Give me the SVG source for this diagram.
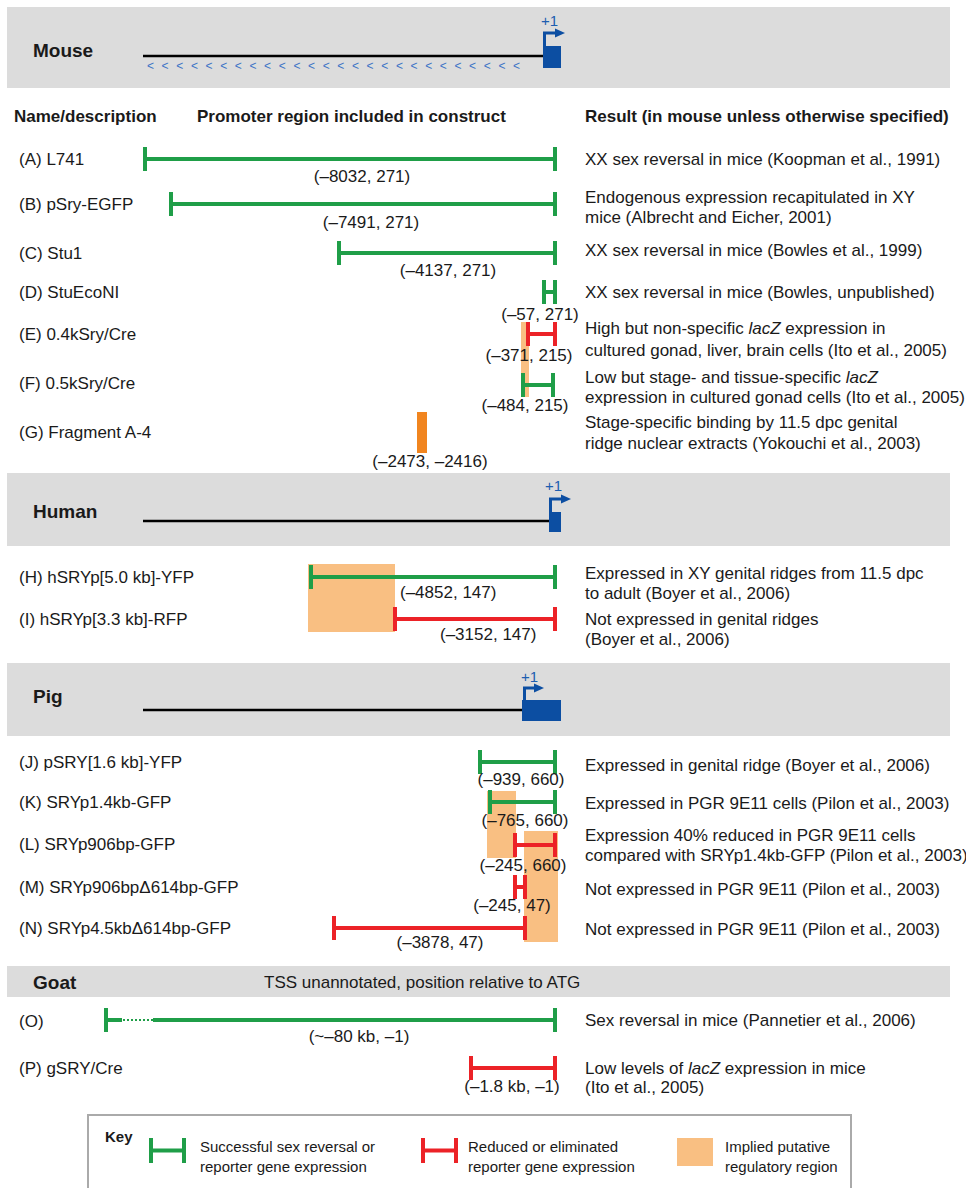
<svg xmlns="http://www.w3.org/2000/svg" width="966" height="1188" viewBox="0 0 966 1188">
<style>
text{font-family:"Liberation Sans",Arial,Helvetica,sans-serif;fill:#1a1a1a}
.t{font-size:17px}
.b{font-size:17px;font-weight:bold}
.sp{font-size:19px;font-weight:bold}
.c{font-size:17px;text-anchor:middle}
.k{font-size:15px}
.band{fill:#dcdcdc}
.g{stroke:#1f9e48;stroke-width:4;fill:none}
.r{stroke:#ec2227;stroke-width:4;fill:none}
.o{fill:#f9bf82}
.od{fill:#f1851f}
.bl{fill:#0c4ea2}
.bls{stroke:#0c4ea2;stroke-width:3;fill:none}
.gl{stroke:#000;stroke-width:2.5}
.pl{font-size:15px;fill:#1d5eb0}
.ch{font-size:12px;fill:#3d74c6}
</style>

<g id="mouse-header">
<rect class="band" x="7" y="7" width="943" height="81"/>
<text class="sp" x="33" y="57">Mouse</text>
<line class="gl" x1="143" y1="56" x2="544" y2="56"/>
<text class="ch" x="147 161.6 176.3 190.9 205.6 220.2 234.8 249.5 264.1 278.8 293.4 308 322.7 337.3 352 366.6 381.2 395.9 410.5 425.2 439.8 454.4 469.1 483.7 498.4 513" y="70">&lt;&lt;&lt;&lt;&lt;&lt;&lt;&lt;&lt;&lt;&lt;&lt;&lt;&lt;&lt;&lt;&lt;&lt;&lt;&lt;&lt;&lt;&lt;&lt;&lt;&lt;</text>
<rect class="bl" x="543" y="46" width="18" height="22"/>
<polyline class="bls" points="544.5,47 544.5,33 556,33"/>
<polygon class="bl" points="555,28.5 565,33 555,37.5"/>
<text class="pl" x="541" y="26">+1</text>
</g>

<g id="column-headers">
<text class="b" x="14" y="122">Name/description</text>
<text class="b" x="197" y="122">Promoter region included in construct</text>
<text class="b" x="585" y="122">Result (in mouse unless otherwise specified)</text>
</g>

<g id="row-A">
<text class="t" x="19" y="165">(A) L741</text>
<path class="g" d="M145,147V171M145,159H555M555,147V171"/>
<text class="c" x="362" y="182">(–8032, 271)</text>
<text class="t" x="585" y="165">XX sex reversal in mice (Koopman et al., 1991)</text>
</g>

<g id="row-B">
<text class="t" x="19" y="210">(B) pSry-EGFP</text>
<path class="g" d="M171,192V216M171,204H555M555,192V216"/>
<text class="c" x="371" y="228">(–7491, 271)</text>
<text class="t" x="585" y="203">Endogenous expression recapitulated in XY</text>
<text class="t" x="585" y="223">mice (Albrecht and Eicher, 2001)</text>
</g>

<g id="row-C">
<text class="t" x="19" y="259">(C) Stu1</text>
<path class="g" d="M339,241V265M339,253H555M555,241V265"/>
<text class="c" x="448" y="276">(–4137, 271)</text>
<text class="t" x="585" y="256">XX sex reversal in mice (Bowles et al., 1999)</text>
</g>

<g id="row-D">
<text class="t" x="19" y="298">(D) StuEcoNI</text>
<path class="g" d="M544,280V304M544,292H555M555,280V304"/>
<text class="c" x="540" y="320">(–57, 271)</text>
<text class="t" x="585" y="298">XX sex reversal in mice (Bowles, unpublished)</text>
</g>

<g id="row-E">
<rect class="o" x="521" y="322" width="8" height="75"/>
<text class="t" x="19" y="340">(E) 0.4kSry/Cre</text>
<path class="r" d="M528,322V346M528,334H555M555,322V346"/>
<text class="c" x="529" y="361">(–371, 215)</text>
<text class="t" x="585" y="334">High but non-specific <tspan font-style="italic">lacZ</tspan> expression in</text>
<text class="t" x="585" y="356">cultured gonad, liver, brain cells (Ito et al., 2005)</text>
</g>

<g id="row-F">
<text class="t" x="19" y="389">(F) 0.5kSry/Cre</text>
<path class="g" d="M523,373V397M523,385H553M553,373V397"/>
<text class="c" x="525" y="411">(–484, 215)</text>
<text class="t" x="585" y="383">Low but stage- and tissue-specific <tspan font-style="italic">lacZ</tspan></text>
<text class="t" x="585" y="403">expression in cultured gonad cells (Ito et al., 2005)</text>
</g>

<g id="row-G">
<text class="t" x="19" y="438">(G) Fragment A-4</text>
<rect class="od" x="417" y="412" width="10" height="41"/>
<text class="c" x="430" y="467">(–2473, –2416)</text>
<text class="t" x="585" y="428">Stage-specific binding by 11.5 dpc genital</text>
<text class="t" x="585" y="449">ridge nuclear extracts (Yokouchi et al., 2003)</text>
</g>

<g id="human-header">
<rect class="band" x="7" y="473" width="943" height="73"/>
<text class="sp" x="33" y="518">Human</text>
<line class="gl" x1="143" y1="521" x2="550" y2="521"/>
<rect class="bl" x="549" y="512" width="12" height="20"/>
<polyline class="bls" points="550.5,513 550.5,499 562,499"/>
<polygon class="bl" points="561,494.5 571,499 561,503.5"/>
<text class="pl" x="545" y="491">+1</text>
</g>

<g id="row-H">
<rect class="o" x="308" y="564" width="87" height="68"/>
<text class="t" x="19" y="583">(H) hSRYp[5.0 kb]-YFP</text>
<path class="g" d="M311,565V589M311,577H555M555,565V589"/>
<text class="t" x="400" y="598">(–4852, 147)</text>
<text class="t" x="585" y="579">Expressed in XY genital ridges from 11.5 dpc</text>
<text class="t" x="585" y="599">to adult (Boyer et al., 2006)</text>
</g>

<g id="row-I">
<text class="t" x="19" y="625">(I) hSRYp[3.3 kb]-RFP</text>
<path class="r" d="M395,607V631M395,619H555M555,607V631"/>
<text class="t" x="440" y="640">(–3152, 147)</text>
<text class="t" x="585" y="625">Not expressed in genital ridges</text>
<text class="t" x="585" y="645">(Boyer et al., 2006)</text>
</g>

<g id="pig-header">
<rect class="band" x="7" y="663" width="943" height="73"/>
<text class="sp" x="33" y="703">Pig</text>
<line class="gl" x1="143" y1="710" x2="523" y2="710"/>
<rect class="bl" x="522" y="700" width="39" height="21"/>
<polyline class="bls" points="524.5,701 524.5,688 535,688"/>
<polygon class="bl" points="534,683.5 544,688 534,692.5"/>
<text class="pl" x="521" y="682">+1</text>
</g>

<g id="row-J">
<text class="t" x="19" y="768">(J) pSRY[1.6 kb]-YFP</text>
<path class="g" d="M480,750V774M480,762H555M555,750V774"/>
<text class="c" x="521" y="785">(–939, 660)</text>
<text class="t" x="585" y="771">Expressed in genital ridge (Boyer et al., 2006)</text>
</g>

<g id="row-K">
<rect class="o" x="487" y="791" width="29" height="67"/>
<text class="t" x="19" y="808">(K) SRYp1.4kb-GFP</text>
<path class="g" d="M490,790V814M490,802H555M555,790V814"/>
<text class="c" x="525" y="826">(–765, 660)</text>
<text class="t" x="585" y="809">Expressed in PGR 9E11 cells (Pilon et al., 2003)</text>
</g>

<g id="row-L">
<rect class="o" x="524" y="831" width="34" height="111"/>
<text class="t" x="19" y="850">(L) SRYp906bp-GFP</text>
<path class="r" d="M515,833V857M515,845H555M555,833V857"/>
<text class="c" x="523" y="871">(–245, 660)</text>
<text class="t" x="585" y="841">Expression 40% reduced in PGR 9E11 cells</text>
<text class="t" x="585" y="861">compared with SRYp1.4kb-GFP (Pilon et al., 2003)</text>
</g>

<g id="row-M">
<text class="t" x="19" y="893">(M) SRYp906bpΔ614bp-GFP</text>
<path class="r" d="M515,875V899M515,887H525M525,875V899"/>
<text class="c" x="512" y="911">(–245, 47)</text>
<text class="t" x="585" y="895">Not expressed in PGR 9E11 (Pilon et al., 2003)</text>
</g>

<g id="row-N">
<text class="t" x="19" y="934">(N) SRYp4.5kbΔ614bp-GFP</text>
<path class="r" d="M334,916V940M334,928H525M525,916V940"/>
<text class="c" x="440" y="948">(–3878, 47)</text>
<text class="t" x="585" y="935">Not expressed in PGR 9E11 (Pilon et al., 2003)</text>
</g>

<g id="goat-header">
<rect class="band" x="7" y="966" width="943" height="31"/>
<text class="sp" x="33" y="989">Goat</text>
<text class="t" x="264" y="988">TSS unannotated, position relative to ATG</text>
</g>

<g id="row-O">
<text class="t" x="19" y="1027">(O)</text>
<path class="g" d="M106,1008V1032M106,1020H122M153,1020H555M555,1008V1032"/>
<line x1="123" y1="1020" x2="153" y2="1020" stroke="#1f9e48" stroke-width="2" stroke-dasharray="2,2"/>
<text class="c" x="359" y="1042">(~–80 kb, –1)</text>
<text class="t" x="585" y="1026">Sex reversal in mice (Pannetier et al., 2006)</text>
</g>

<g id="row-P">
<text class="t" x="19" y="1074">(P) gSRY/Cre</text>
<path class="r" d="M471,1056V1080M471,1068H555M555,1056V1080"/>
<text class="c" x="512" y="1092">(–1.8 kb, –1)</text>
<text class="t" x="585" y="1074">Low levels of <tspan font-style="italic">lacZ</tspan> expression in mice</text>
<text class="t" x="585" y="1093">(Ito et al., 2005)</text>
</g>

<g id="key">
<rect x="88" y="1115" width="763" height="85" fill="none" stroke="#aaaaaa" stroke-width="2"/>
<text class="k" x="105" y="1142" font-weight="bold">Key</text>
<path class="g" d="M151,1138V1163M151,1150.5H184M184,1138V1163"/>
<text class="k" x="200" y="1152">Successful sex reversal or</text>
<text class="k" x="200" y="1172">reporter gene expression</text>
<path class="r" d="M423,1138V1163M423,1150.5H456M456,1138V1163"/>
<text class="k" x="468" y="1152">Reduced or eliminated</text>
<text class="k" x="468" y="1172">reporter gene expression</text>
<rect class="o" x="677" y="1138" width="36" height="28"/>
<text class="k" x="725" y="1152">Implied putative</text>
<text class="k" x="725" y="1172">regulatory region</text>
</g>
</svg>
